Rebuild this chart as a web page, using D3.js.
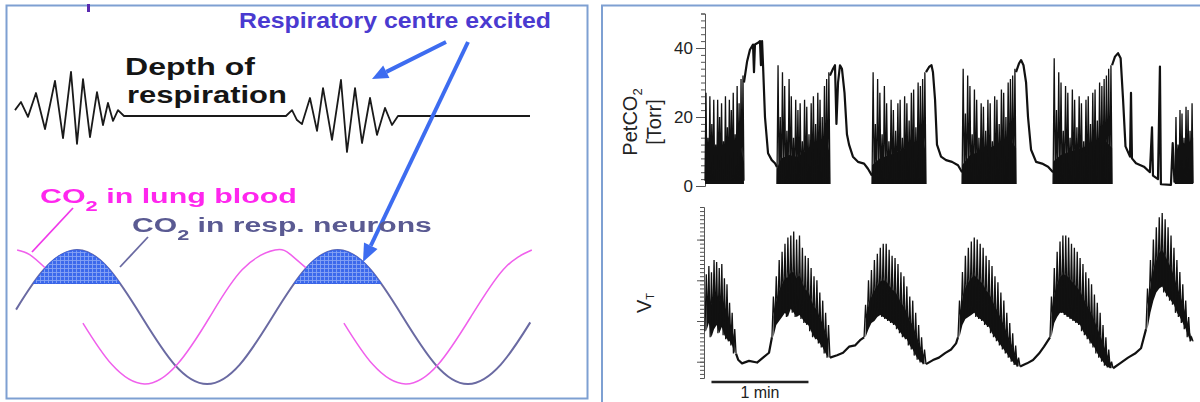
<!DOCTYPE html>
<html>
<head>
<meta charset="utf-8">
<script src="https://cdn.jsdelivr.net/npm/d3@7"></script>
<style>
  html, body { margin: 0; padding: 0; background: #fff; }
  svg { display: block; }
  text { font-family: "Liberation Sans", Arial, Helvetica, sans-serif; }
</style>
</head>
<body>
<svg id="chart" width="1200" height="402"></svg>
<script>
// ---------- Left panel: schematic (time in arbitrary units, level -1..1) ----------
// CO2 in respiratory neurons (lags the lung curve)
const neuronWave = [[0.4,0.11],[5.75,0.71],[12,1],[18.25,0.71],[24.5,0],[30.75,-0.71],[37,-1],
  [43.25,-0.71],[49.5,0],[55.75,0.71],[62,1],[68.25,0.71],[74.5,0],[80.75,-0.71],[87,-1],
  [93.25,-0.71],[98.9,-0.08]];
// CO2 in lung blood, drawn in visible pieces
const lungWave = [
  [[0.6,1],[3,0.93],[6,0.73]],
  [[13.2,-0.09],[18.75,-0.71],[25,-1],[31.25,-0.71],[37.5,0],[43.75,0.71],[50,1],[53,0.93],[56,0.73]],
  [[63.2,-0.09],[68.75,-0.71],[75,-1],[81.25,-0.71],[87.5,0],[93.75,0.71],[99.2,1]]
];
// shaded "excited" caps above the threshold level
const capThreshold = 0.5;
const capPoints = [
  [[3.67,0.5],[5.75,0.71],[8,0.88],[12,1],[16,0.88],[18.25,0.71],[20.33,0.5]],
  [[53.67,0.5],[55.75,0.71],[58,0.88],[62,1],[66,0.88],[68.25,0.71],[70.33,0.5]]
];
// depth of respiration trace
const depthTrace = [[0.19,0.13],[1.34,0.31],[2.68,-0.02],[4.21,0.51],[5.94,-0.29],[7.85,0.78],
  [9.39,-0.49],[10.92,0.98],[12.07,-0.62],[13.22,0.82],[14.56,-0.47],[15.9,0.53],[17.05,-0.2],
  [18.0,0.29],[18.97,-0.11],[19.92,0.13],[21.07,0],[52.1,0],[53.26,0.13],[54.21,-0.09],
  [55.17,-0.18],[56.7,0.4],[58.05,-0.33],[59.2,0.62],[60.92,-0.53],[62.64,0.8],[63.79,-0.8],
  [65.33,0.62],[66.67,-0.6],[68.2,0.4],[69.54,-0.42],[71.07,0.18],[72.41,-0.2],[73.56,0],[98.85,0]];

// ---------- Right panel: recordings (time in s) ----------
const petTicksMajor = [0, 20, 40];
// hyperpnoea phases: [start, end] and end-tidal peak of each breath
const petSpans = [[0,24.1],[44.5,77.3],[103.3,136.7],[159,192.4],[215.3,251.8],[290.7,301.9]];
const petFloor = [1.5, 0.6, 0.6, 0.6, 0.6, 0.8];
const petPeaks = [
  [27,14,26,18,25,12,25,20,24,13,26,17,25,22,27,15,29,24,31,32],
  [35,20,33,29,16,31,26,14,25,22,24,13,25,23,15,24,26,18,27,25,20,29,31,33],
  [33,18,31,27,15,29,24,13,25,22,16,24,25,14,26,24,19,27,28,17,30,29,31,33],
  [34,21,32,29,15,28,25,14,24,23,16,25,24,13,26,25,18,28,27,20,30,31,32,34],
  [37,22,33,30,16,29,27,14,28,25,17,26,24,13,25,26,18,27,28,19,30,29,31,32,34,35],
  [20,12,22,21,14,23,22,16,24]
];
// dense lower band of each hyperpnoea phase
const petBands = [
  [[0,10],[3,12],[7,10.5],[11,12],[15,10.5],[19,12.5],[22,11],[24.1,7]],
  [[44.5,5],[47,8],[52,9],[57,8.5],[62,10],[67,11.5],[72,13],[75,14],[77.3,9]],
  [[103.3,6],[108,8],[114,9],[120,10],[126,11.5],[131,13],[135,14],[136.7,9]],
  [[159,6],[164,9],[170,10],[176,11],[182,12.5],[188,14],[192.4,11]],
  [[215.3,7],[220,9],[226,10],[233,11],[240,12.5],[246,14],[251.8,11]],
  [[290.7,9],[294,13],[298,12],[301.9,14]]
];
// apnoea segments between phases
const petSlow = [
  [[24.1,30],[26.0,36],[27.8,39.5],[29.7,41],[30.3,33],[30.9,41],[32.8,41.5],[34.0,42],[34.6,35],
   [35.3,42],[35.9,35],[37.1,20],[39.0,9.5],[41.3,7.5],[43.3,6.6],[44.5,5.5]],
  [[77.3,32],[79.2,34],[80.4,35],[81.3,18],[82.3,30],[83.5,35],[84.7,34],[86.3,27],[87.8,15],
   [89.1,12],[91.5,8.5],[94.6,7],[98.4,6.5],[100.8,5],[103.3,3]],
  [[136.7,33],[138.6,34.5],[140.1,35],[141.0,33],[142.3,25],[143.5,12],[146.0,8.5],[149.1,7.5],
   [152.8,7],[156.5,6],[159.0,4]],
  [[192.4,33],[194.2,35.5],[195.5,36.5],[197.0,35],[198.6,30],[199.8,20],[201.7,10.5],[204.8,7],
   [208.5,6.5],[212.2,5.6],[215.3,4]],
  [[251.8,35],[253.6,37.5],[255.5,38.5],[257.1,37],[258.6,25],[260.1,11.5],[262.9,8.5],[263.5,27],
   [264.1,8],[266.6,6.6],[271.5,5.6],[275.2,4],[276.5,17],[277.1,3],[280.2,2],[281.4,34.6],
   [282.0,0.5],[288.2,0.3],[289.3,12.4],[290.4,1]]
];

// tidal volume bursts: [start, end], upper and lower value of each breath
const vtSpans = [[0,19.2],[41.4,77.3],[98.4,136.7],[156.5,194.9],[213.4,252.4],[272.8,301.9]];
const vtHi = [
  [2.55,2.75,2.6,2.9,2.85,2.7,2.8,2.45,2.3,1.85,1.6,1.2],
  [2.0,2.5,2.9,3.1,3.3,3.45,3.5,3.6,3.4,3.5,3.2,3.0,2.95,2.7,2.5,2.4,2.1,1.9,1.6,1.3],
  [1.8,2.4,2.65,2.9,3.05,3.2,3.3,3.3,3.15,3.0,2.95,2.8,2.6,2.5,2.25,2.0,1.9,1.6,1.3,1.0,0.7],
  [1.9,2.6,3.0,3.2,3.35,3.45,3.4,3.3,3.2,3.0,2.9,2.75,2.5,2.35,2.1,1.9,1.6,1.35,1.1,0.8,0.5],
  [2.0,2.7,3.1,3.35,3.5,3.5,3.45,3.3,3.2,3.1,2.95,2.8,2.6,2.45,2.3,2.05,1.85,1.6,1.3,1.0,0.7,0.4],
  [2.2,2.9,3.4,3.7,3.95,4.05,3.9,3.7,3.5,3.2,2.9,2.6,2.3,1.9,1.5,1.0]
];
const vtLo = [
  [1.15,1.35,1.0,1.2,1.3,1.1,1.25,1.05,0.95,0.9,0.8,0.6],
  [1.0,1.3,1.4,1.5,1.6,1.5,1.7,1.6,1.5,1.55,1.45,1.35,1.3,1.15,1.0,0.95,0.85,0.75,0.6,0.5],
  [1.0,1.2,1.35,1.4,1.5,1.55,1.5,1.45,1.4,1.35,1.3,1.2,1.1,1.0,0.95,0.8,0.7,0.55,0.45,0.38,0.34],
  [1.0,1.3,1.45,1.5,1.55,1.6,1.5,1.45,1.4,1.3,1.25,1.1,1.0,0.9,0.8,0.7,0.6,0.5,0.4,0.32,0.28],
  [1.0,1.35,1.5,1.6,1.6,1.55,1.5,1.45,1.4,1.35,1.3,1.15,1.05,0.95,0.85,0.75,0.6,0.5,0.4,0.3,0.26,0.24],
  [1.2,1.6,1.9,2.1,2.2,2.25,2.1,2.0,1.9,1.8,1.6,1.5,1.35,1.2,1.0,0.9]
];
const vtSlow = [
  [[19.2,0.6],[20.5,0.45],[22.9,0.36],[27.2,0.42],[32.2,0.38],[35.9,0.5],[39.6,0.62],[41.4,1.0]],
  [[77.3,0.5],[81.7,0.56],[85.4,0.62],[89.1,0.77],[92.8,0.8],[95.9,0.93],[98.4,1.0]],
  [[136.7,0.34],[141,0.44],[144.7,0.5],[148.5,0.61],[152.2,0.7],[155.3,0.85],[156.5,1.0]],
  [[194.9,0.28],[199.2,0.36],[202.9,0.44],[206.6,0.6],[209.7,0.77],[213.4,1.0]],
  [[252.4,0.24],[256.7,0.36],[261.7,0.5],[266,0.6],[269.7,0.73],[272.8,1.2]]
];
const vtTicksMajor = [0.4, 1.4, 2.4, 3.4];
const scaleBarMinutes = 1;

// ---------- drawing ----------
const svg = d3.select("#chart");
const frameColor = "#7ea0d2";

const defs = svg.append("defs");
defs.append("filter").attr("id", "soft").attr("x", "-5%").attr("y", "-5%")
  .attr("width", "110%").attr("height", "110%")
  .append("feGaussianBlur").attr("stdDeviation", 0.55);

// panel frames
svg.append("rect").attr("x", 6.5).attr("y", 5.5).attr("width", 581).attr("height", 393)
  .attr("fill", "none").attr("stroke", frameColor).attr("stroke-width", 2);
svg.append("rect").attr("x", 602).attr("y", 5.5).attr("width", 640).attr("height", 440)
  .attr("fill", "none").attr("stroke", frameColor).attr("stroke-width", 2);
// clipped fragment of a heading above the frame
svg.append("rect").attr("x", 87).attr("y", 4).attr("width", 3).attr("height", 8).attr("fill", "#5a2ab0");

// --- left schematic ---
const xL = d3.scaleLinear().domain([0, 100]).range([14, 536]);
const yWave = d3.scaleLinear().domain([-1, 1]).range([384, 250]);
const yDepth = d3.scaleLinear().domain([-1, 1]).range([161, 71]);

const pat = defs.append("pattern").attr("id", "capGrid").attr("patternUnits", "userSpaceOnUse")
  .attr("width", 4).attr("height", 4);
pat.append("rect").attr("width", 4).attr("height", 4).attr("fill", "#3c69ec");
pat.append("path").attr("d", "M0,0.5H4M0.5,0V4").attr("stroke", "#86a3f4").attr("stroke-width", 0.9);

const waveLine = d3.line().x(d => xL(d[0])).y(d => yWave(d[1])).curve(d3.curveNatural);
const waves = svg.append("g").attr("filter", "url(#soft)");
waves.append("path").attr("d", waveLine(neuronWave)).attr("fill", "none")
  .attr("stroke", "#6a6aa2").attr("stroke-width", 2);
lungWave.forEach(seg => {
  waves.append("path").attr("d", waveLine(seg)).attr("fill", "none")
    .attr("stroke", "#f060ec").attr("stroke-width", 1.5);
});

const capArea = d3.area().x(d => xL(d[0])).y0(yWave(capThreshold)).y1(d => yWave(d[1]))
  .curve(d3.curveNatural);
capPoints.forEach(seg => {
  svg.append("path").attr("d", capArea(seg)).attr("fill", "url(#capGrid)")
    .attr("stroke", "#3a64e6").attr("stroke-width", 1);
});

// depth of respiration
const depthLine = d3.line().x(d => xL(d[0])).y(d => yDepth(d[1]));
svg.append("path").attr("d", depthLine(depthTrace)).attr("fill", "none")
  .attr("stroke", "#1a1a1a").attr("stroke-width", 1.8).attr("stroke-linejoin", "round");

// leader lines from the labels to the curves
svg.append("line").attr("x1", 73).attr("y1", 208).attr("x2", 32).attr("y2", 252)
  .attr("stroke", "#f038ea").attr("stroke-width", 1.8);
svg.append("line").attr("x1", 148).attr("y1", 237).attr("x2", 120).attr("y2", 267)
  .attr("stroke", "#6a6aa2").attr("stroke-width", 1.8);

// arrows
const arrowBlue = "#3d6cf0";
function arrow(x1, y1, x2, y2, headLen, headW, width) {
  const a = Math.atan2(y2 - y1, x2 - x1);
  const bx = x2 - headLen * Math.cos(a), by = y2 - headLen * Math.sin(a);
  svg.append("line").attr("x1", x1).attr("y1", y1).attr("x2", bx).attr("y2", by)
    .attr("stroke", arrowBlue).attr("stroke-width", width);
  const px = -Math.sin(a) * headW / 2, py = Math.cos(a) * headW / 2;
  svg.append("path").attr("d", `M${x2},${y2}L${bx + px},${by + py}L${bx - px},${by - py}Z`)
    .attr("fill", arrowBlue);
}
arrow(446, 42, 372, 79, 16, 14, 4);
arrow(468, 42, 363, 262, 18, 15, 4);

// labels: drawn at natural width, then stretched horizontally to the target width
function label(x, y, size, color, parts, len, soft) {
  const g = svg.append("g");
  if (soft) g.attr("filter", "url(#soft)");
  const t = g.append("text").attr("font-size", size).attr("font-weight", "bold").attr("fill", color);
  parts.forEach(p => {
    const s = t.append("tspan").text(p.s);
    if (p.small) s.attr("font-size", size * 0.72);
    if (p.dy) s.attr("dy", p.dy);
  });
  const w = t.node().getComputedTextLength();
  t.attr("transform", `translate(${x},${y}) scale(${len / w},1)`);
  return g;
}
label(239, 28, 22, "#4a3ad0", [{s: "Respiratory centre excited"}], 312);
label(125, 75, 24, "#151515", [{s: "Depth of"}], 130);
label(127, 103, 24, "#151515", [{s: "respiration"}], 160);
label(40, 203, 21, "#ff26ee", [{s: "CO"}, {s: "2", small: true, dy: 8}, {s: " in lung blood", dy: -8}], 257, true);
label(132, 232, 21, "#5a5a92", [{s: "CO"}, {s: "2", small: true, dy: 8}, {s: " in resp. neurons", dy: -8}], 300, true);

// --- right: PetCO2 recording ---
const tX = d3.scaleLinear().domain([0, 300]).range([705, 1190]);
const petY = d3.scaleLinear().domain([0, 50]).range([186, 13.5]);
const vtY = d3.scaleLinear().domain([0, 4.2]).range([378, 207]);

const minorPet = svg.append("g").attr("transform", "translate(705,0)")
  .call(d3.axisLeft(petY).tickValues(d3.range(0, 51, 2)).tickSize(4).tickFormat(""));
const majorPet = svg.append("g").attr("transform", "translate(705,0)")
  .call(d3.axisLeft(petY).tickValues(petTicksMajor).tickSize(9).tickPadding(3));
majorPet.select(".domain").remove();
[minorPet, majorPet].forEach(g => {
  g.selectAll("path,line").attr("stroke", "#555").attr("stroke-width", 1);
});
majorPet.selectAll("text").attr("font-size", 17).attr("fill", "#222")
  .attr("font-family", "'Liberation Sans', Arial, sans-serif");

const lab1 = svg.append("text").attr("transform", "translate(637,122) rotate(-90)")
  .attr("text-anchor", "middle").attr("font-size", 20).attr("fill", "#222");
lab1.append("tspan").text("PetCO");
lab1.append("tspan").text("2").attr("font-size", 13).attr("dy", 5);
svg.append("text").attr("transform", "translate(661,122) rotate(-90)")
  .attr("text-anchor", "middle").attr("font-size", 20).attr("fill", "#222").text("[Torr]");

const petLine = d3.line().x(d => tX(d[0])).y(d => petY(d[1]));
const bandArea = d3.area().x(d => tX(d[0])).y0(petY(0.6)).y1(d => petY(d[1]));
petBands.forEach(b => {
  svg.append("path").attr("d", bandArea(b)).attr("fill", "#111");
});
petSpans.forEach((span, k) => {
  const peaks = petPeaks[k], n = peaks.length, dt = (span[1] - span[0]) / n;
  const pts = [[span[0], petFloor[k]]];
  peaks.forEach((p, i) => {
    pts.push([span[0] + (i + 0.5) * dt, p]);
    pts.push([span[0] + (i + 1) * dt, petFloor[k]]);
  });
  svg.append("path").attr("d", petLine(pts)).attr("fill", "none")
    .attr("stroke", "#111").attr("stroke-width", 1.3);
});
petSlow.forEach(seg => {
  svg.append("path").attr("d", petLine(seg)).attr("fill", "none")
    .attr("stroke", "#111").attr("stroke-width", 2.2).attr("stroke-linejoin", "round");
});

// --- right: tidal volume recording ---
const minorVt = svg.append("g").attr("transform", "translate(704,0)")
  .call(d3.axisLeft(vtY).tickValues(d3.range(0, 42).map(i => i / 10)).tickSize(4).tickFormat(""));
const majorVt = svg.append("g").attr("transform", "translate(704,0)")
  .call(d3.axisLeft(vtY).tickValues(vtTicksMajor).tickSize(7).tickFormat(""));
majorVt.select(".domain").remove();
[minorVt, majorVt].forEach(g => {
  g.selectAll("path,line").attr("stroke", "#555").attr("stroke-width", 1);
});

const lab2 = svg.append("text").attr("transform", "translate(651,303) rotate(-90)")
  .attr("text-anchor", "middle").attr("font-size", 20).attr("fill", "#222");
lab2.append("tspan").text("V");
lab2.append("tspan").text("T").attr("font-size", 11).attr("dy", 3);

const vtLine = d3.line().x(d => tX(d[0])).y(d => vtY(d[1]));
// solid core of each burst: from the lower value to midway towards the upper value
const vtCore = d3.area().x(d => tX(d[0])).y0(d => vtY(d[1])).y1(d => vtY(d[1] + 0.5 * (d[2] - d[1])));
vtSpans.forEach((span, k) => {
  const hi = vtHi[k], lo = vtLo[k], n = hi.length, dt = (span[1] - span[0]) / n;
  const pts = [], core = [];
  hi.forEach((h, i) => {
    pts.push([span[0] + i * dt, lo[i]]);
    pts.push([span[0] + (i + 0.5) * dt, h]);
    core.push([span[0] + (i + 0.5) * dt, lo[i], h]);
  });
  pts.push([span[1], lo[n - 1]]);
  svg.append("path").attr("d", vtCore(core)).attr("fill", "#111");
  svg.append("path").attr("d", vtLine(pts)).attr("fill", "none")
    .attr("stroke", "#111").attr("stroke-width", 1.3);
});
vtSlow.forEach(seg => {
  svg.append("path").attr("d", vtLine(seg)).attr("fill", "none")
    .attr("stroke", "#111").attr("stroke-width", 2.2).attr("stroke-linejoin", "round");
});

// time scale bar
svg.append("line").attr("x1", tX(4)).attr("x2", tX(4 + scaleBarMinutes * 60))
  .attr("y1", 382).attr("y2", 382).attr("stroke", "#222").attr("stroke-width", 2.5);
svg.append("text").attr("x", tX(4 + scaleBarMinutes * 30)).attr("y", 398)
  .attr("text-anchor", "middle").attr("font-size", 16).attr("fill", "#222")
  .text(scaleBarMinutes + " min");
</script>
</body>
</html>
